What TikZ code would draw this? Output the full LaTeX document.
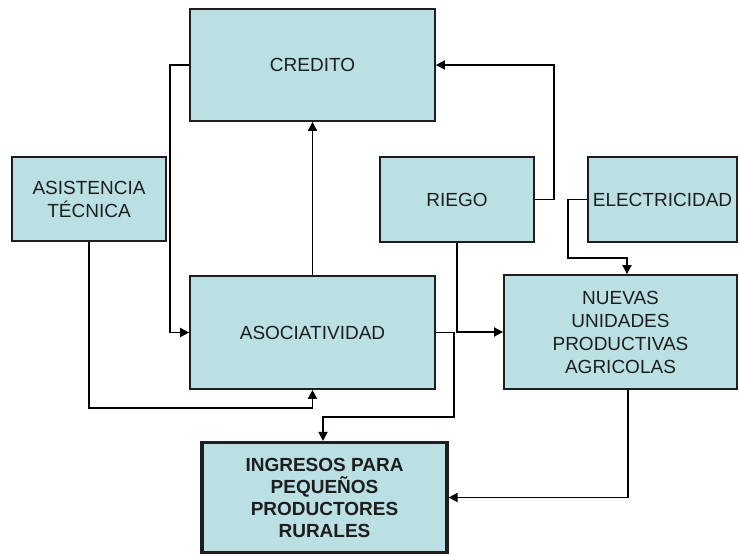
\documentclass[tikz,border=0pt]{standalone}
\usepackage{fontspec}
\setmainfont{Liberation Sans}
\usetikzlibrary{arrows.meta,calc}
\definecolor{boxfill}{RGB}{186,224,227}
\definecolor{boxline}{RGB}{30,30,30}
\begin{document}
\begin{tikzpicture}[x=1pt,y=-1pt,
  box/.style={draw=boxline,line width=1.8pt,fill=boxfill,rectangle,inner sep=0pt,align=center,
    font=\fontsize{19}{23}\selectfont,text=boxline},
  arr/.style={draw=black,line width=1.8pt,-{Triangle[length=9pt,width=9pt]}}]
\useasboundingbox (0,0) rectangle (739,555);
\node[box,minimum width=245pt,minimum height=112pt] (cred) at (312.5,65) {CREDITO};
\node[box,minimum width=154pt,minimum height=84pt] (asist) at (89,199) {ASISTENCIA\\TÉCNICA};
\node[box,minimum width=154pt,minimum height=85pt] (riego) at (457,199.5) {RIEGO};
\node[box,minimum width=149pt,minimum height=85pt] (elec) at (662.5,199.5) {ELECTRICIDAD};
\node[box,minimum width=245pt,minimum height=113pt] (asoc) at (312.5,332.5) {ASOCIATIVIDAD};
\node[box,minimum width=233pt,minimum height=114pt] (nuev) at (620.5,332) {NUEVAS\\UNIDADES\\PRODUCTIVAS\\AGRICOLAS};
\node[box,line width=3.2pt,minimum width=245pt,minimum height=110pt,font=\bfseries\fontsize{19}{22}\selectfont] (ing) at (324.5,497.5) {INGRESOS PARA\\PEQUEÑOS\\PRODUCTORES\\RURALES};
% connectors
\draw[arr] (cred.west) -- ++(-19,0) |- (asoc.west);
\draw[arr] (asoc.north) -- (cred.south);
\draw[arr] (riego.east) -- ++(19,0) |- (cred.east);
\coordinate (e1) at (627,258);
\draw[arr] (elec.west) -- ++(-19,0) |- (e1) -- (e1 |- nuev.north);
\draw[arr] (riego.south) |- (nuev.west);
\coordinate (s1) at (312.5,408);
\draw[arr] (asist.south) |- (s1) -- (asoc.south);
\coordinate (a1) at (323,417);
\draw[arr] (asoc.east) -- ++(18,0) |- (a1) -- (a1 |- ing.north);
\coordinate (n1) at (628,389);
\draw[arr] (n1) |- (ing.east);
\end{tikzpicture}
\end{document}
